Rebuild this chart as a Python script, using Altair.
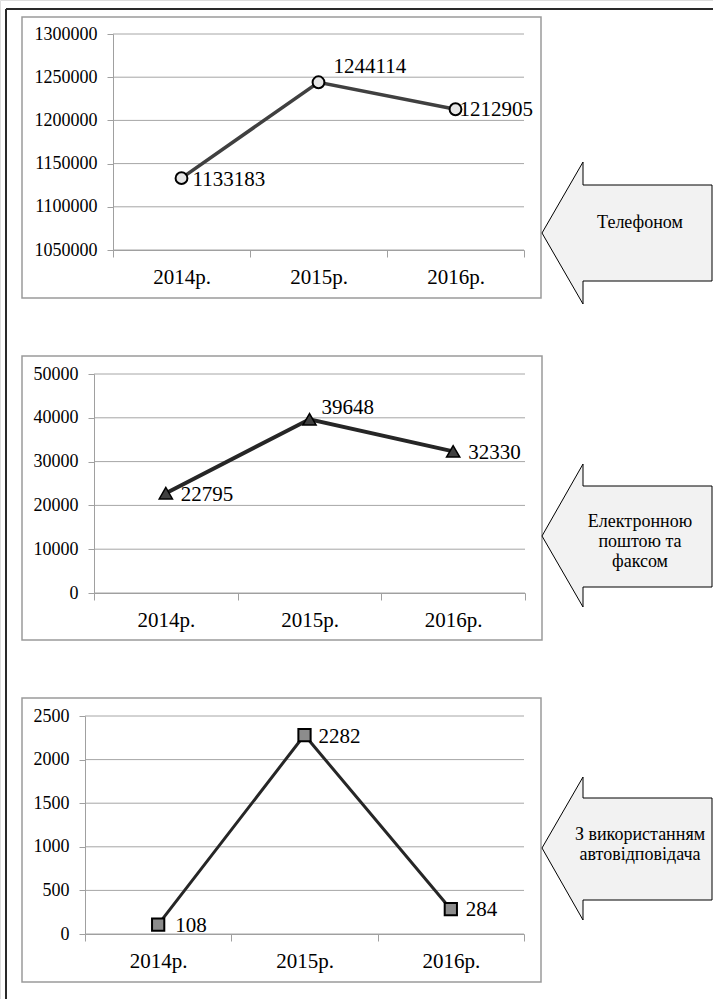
import altair as alt
import pandas as pd

# ---------------- data ----------------
years = ["2014р.", "2015р.", "2016р."]
phone_values = [1133183, 1244114, 1212905]
email_values = [22795, 39648, 32330]
answer_values = [108, 2282, 284]

phone_ticks = [1050000, 1100000, 1150000, 1200000, 1250000, 1300000]
email_ticks = [0, 10000, 20000, 30000, 40000, 50000]
answer_ticks = [0, 500, 1000, 1500, 2000, 2500]

phone_label = ["Телефоном"]
email_label = ["Електронною", "поштою та", "факсом"]
answer_label = ["З використанням", "автовідповідача"]

# ---------------- layout / style ----------------
W, H = 713, 999
FONT = "Liberation Serif, Times New Roman, serif"
GREY = "#a0a0a0"
GRID = "#a6a6a6"
BOX = "#9a9a9a"

panels = [
    dict(values=phone_values, ticks=phone_ticks, x0=113, x1=524, ytop=34, ybot=250,
         box=(22, 17, 541, 298), line_color="#404040", line_w=3.5,
         shape="circle", msize=140, mfill="#e6e6e6", mstroke="#000000", msw=2,
         offsets=[(11, 2), (15, -15), (4, 1)],
         tip=(542, 233), head=(71, 71), body=(48, 48), text=phone_label, text_y=222.5),
    dict(values=email_values, ticks=email_ticks, x0=94, x1=525, ytop=374, ybot=593,
         box=(22, 356, 542, 640), line_color="#262626", line_w=4,
         shape="triangle-up", msize=175, mfill="#404040", mstroke="#000000", msw=1.5,
         offsets=[(15, 2), (12, -11), (15, 2)],
         tip=(542, 536), head=(72, 71), body=(50, 51), text=email_label, text_y=521.5),
    dict(values=answer_values, ticks=answer_ticks, x0=85, x1=524, ytop=716, ybot=934,
         box=(22, 698, 541, 982), line_color="#262626", line_w=3,
         shape="square", msize=150, mfill="#8c8c8c", mstroke="#000000", msw=2,
         offsets=[(17, 1), (14, 2), (15, 1)],
         tip=(542, 848), head=(71, 72), body=(50, 52), text=answer_label, text_y=834.5),
]

one = pd.DataFrame({"k": [0]})


def arrow_path(head, body):
    ht, hb = head
    bt, bb = body
    return f"M0,0 L41,{-ht} L41,{-bt} L170,{-bt} L170,{bb} L41,{bb} L41,{hb} Z"


def make_panel(p):
    df = pd.DataFrame({"year": years, "value": p["values"]})
    gdf = pd.DataFrame({"tick": p["ticks"]})

    def xs():
        return alt.Scale(type="band", domain=years, range=[p["x0"], p["x1"]],
                         paddingInner=0, paddingOuter=0)

    def ys():
        return alt.Scale(domain=[p["ticks"][0], p["ticks"][-1]],
                         range=[p["ybot"], p["ytop"]], zero=False, nice=False)

    xaxis = alt.Axis(orient="bottom", offset=p["ybot"] - H, title=None, labelFont=FONT,
                     labelFontSize=21, labelColor="#000000", labelPadding=9, tickSize=7,
                     tickColor=GREY, domainColor=GREY, tickBand="extent", labelAngle=0,
                     grid=False, zindex=1)
    yaxis = alt.Axis(orient="left", offset=-p["x0"], title=None, values=p["ticks"],
                     format="d", labelFont=FONT, labelFontSize=18, labelColor="#000000",
                     labelPadding=10, tickSize=6, tickColor=GREY, domainColor=GREY,
                     grid=False, zindex=1)

    layers = []
    layers.append(alt.Chart(gdf).mark_rule(color=GRID, strokeWidth=1).encode(
        y=alt.Y("tick:Q", scale=ys(), axis=None),
        x=alt.value(p["x0"]), x2=alt.value(p["x1"]),
    ))
    layers.append(alt.Chart(df).mark_line(color=p["line_color"], strokeWidth=p["line_w"]).encode(
        x=alt.X("year:N", scale=xs(), axis=xaxis, sort=years),
        y=alt.Y("value:Q", scale=ys(), axis=yaxis),
    ))
    layers.append(alt.Chart(df).mark_point(
        shape=p["shape"], size=p["msize"], filled=True, fill=p["mfill"],
        stroke=p["mstroke"], strokeWidth=p["msw"], opacity=1,
    ).encode(
        x=alt.X("year:N", scale=xs(), axis=None, sort=years),
        y=alt.Y("value:Q", scale=ys(), axis=None),
    ))
    for yr, (dx, dy) in zip(years, p["offsets"]):
        layers.append(
            alt.Chart(df).transform_filter(alt.datum.year == yr).mark_text(
                font=FONT, fontSize=21, color="#000000", align="left",
                baseline="middle", dx=dx, dy=dy,
            ).encode(
                x=alt.X("year:N", scale=xs(), axis=None, sort=years),
                y=alt.Y("value:Q", scale=ys(), axis=None),
                text=alt.Text("value:Q", format="d"),
            )
        )
    return layers


deco = []
# outer frame
deco.append(alt.Chart(one).mark_rule(color="#2a2a2a", strokeWidth=2).encode(
    x=alt.value(6), x2=alt.value(W), y=alt.value(9)))
deco.append(alt.Chart(one).mark_rule(color="#2a2a2a", strokeWidth=2).encode(
    x=alt.value(6), y=alt.value(9), y2=alt.value(H)))
for p in panels:
    x0, y0, x1, y1 = p["box"]
    deco.append(alt.Chart(one).mark_rect(fill="transparent", stroke=BOX, strokeWidth=1.5).encode(
        x=alt.value(x0), y=alt.value(y0), x2=alt.value(x1), y2=alt.value(y1)))
    deco.append(alt.Chart(one).mark_point(
        shape=arrow_path(p["head"], p["body"]), size=4, filled=True, fill="#f2f2f2",
        stroke="#000000", strokeWidth=1, opacity=1,
    ).encode(x=alt.value(p["tip"][0]), y=alt.value(p["tip"][1])))
    tdf = pd.DataFrame({"label": ["\n".join(p["text"])]})
    deco.append(alt.Chart(tdf).mark_text(
        font=FONT, fontSize=18, color="#000000", align="center", baseline="middle",
        lineBreak="\n", lineHeight=20,
    ).encode(x=alt.value(640), y=alt.value(p["text_y"]), text="label:N"))

all_layers = list(deco)
for p in panels:
    all_layers.extend(make_panel(p))

chart = alt.layer(*all_layers).resolve_scale(
    x="independent", y="independent"
).resolve_axis(x="independent", y="independent").properties(
    width=W, height=H, autosize=alt.AutoSizeParams(type="none"), padding=0,
).configure_view(stroke=None).configure(background="white")

chart.save("out.html", embed_options={"renderer": "svg", "actions": False})
